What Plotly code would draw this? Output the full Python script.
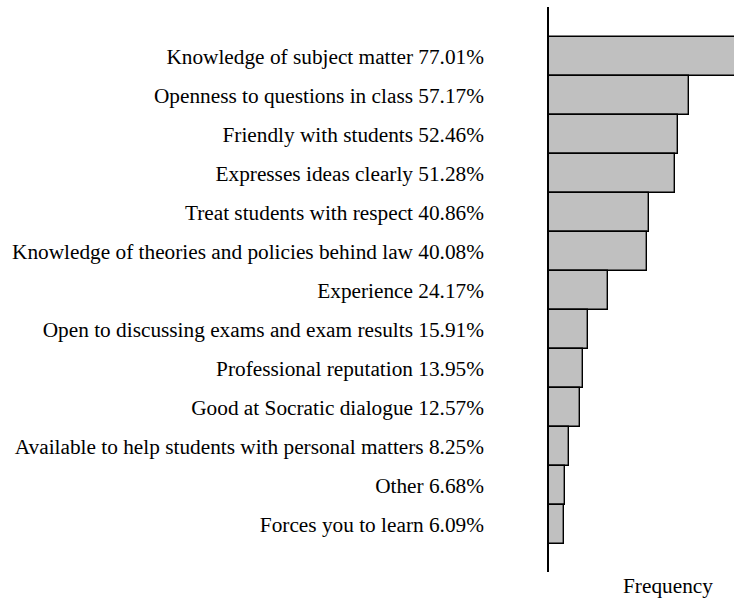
import plotly.graph_objects as go

categories = [
    "Knowledge of subject matter",
    "Openness to questions in class",
    "Friendly with students",
    "Expresses ideas clearly",
    "Treat students with respect",
    "Knowledge of theories and policies behind law",
    "Experience",
    "Open to discussing exams and exam results",
    "Professional reputation",
    "Good at Socratic dialogue",
    "Available to help students with personal matters",
    "Other",
    "Forces you to learn",
]
percent = [77.01, 57.17, 52.46, 51.28, 40.86, 40.08, 24.17, 15.91, 13.95, 12.57, 8.25, 6.68, 6.09]
tick_labels = [f"{c} {p:.2f}%" for c, p in zip(categories, percent)]
positions = list(range(len(categories)))

font_family = "Liberation Serif, Times New Roman, serif"

W, H = 734, 598
L, T, B = 549, 7, 26
plot_h = H - T - B
plot_w = W - L

fig = go.Figure(
    go.Bar(
        x=percent,
        y=positions,
        orientation="h",
        width=1.0,
        marker=dict(color="#c0c0c0", line=dict(color="#000000", width=1.4)),
        hoverinfo="skip",
    )
)

fig.update_layout(
    width=W,
    height=H,
    margin=dict(l=L, r=0, t=T, b=B),
    paper_bgcolor="white",
    plot_bgcolor="white",
    bargap=0,
    showlegend=False,
    font=dict(family=font_family, size=21.3, color="#000000"),
)

fig.update_yaxes(
    range=[13.22, -1.27],
    tickmode="array",
    tickvals=positions,
    ticktext=tick_labels,
    showline=True,
    linecolor="#000000",
    linewidth=1.5,
    ticks="",
    ticklabelstandoff=59,
    showgrid=False,
    zeroline=False,
    tickfont=dict(family=font_family, size=21.3, color="#000000"),
)
fig.update_xaxes(
    range=[0, 75.5],
    showline=False,
    showticklabels=False,
    ticks="",
    showgrid=False,
    zeroline=False,
)

fig.add_annotation(
    text="Frequency",
    xref="paper", yref="paper",
    x=(668 - L) / plot_w, y=-14 / plot_h,
    xanchor="center", yanchor="middle",
    showarrow=False,
    font=dict(family=font_family, size=21.3, color="#000000"),
)

fig.write_html(
    "out.html",
    config={"displayModeBar": False},
    post_script="document.body.style.margin='0';document.body.style.overflow='hidden';",
)
